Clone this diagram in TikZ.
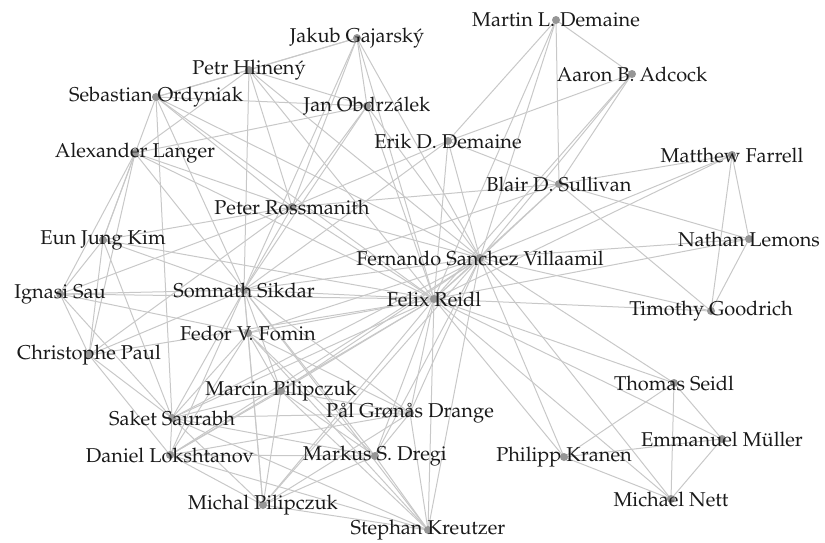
\documentclass[tikz,border=0pt]{standalone}
\usepackage[T1]{fontenc}
\usepackage{mathpazo}
\definecolor{edgegray}{RGB}{200,200,200}
\definecolor{dotgray}{RGB}{150,150,150}
\definecolor{inkblack}{RGB}{25,25,25}
\begin{document}
\begin{tikzpicture}[x=0.5pt,y=-0.5pt,
	coauthor/.style={draw=edgegray,line width=0.5pt},
	authorname/.style={text=inkblack,inner sep=0pt}]
	\useasboundingbox (0,0) rectangle (825,542);
	% where the authors sit
	\coordinate (mld) at (556,20);
	\coordinate (aba) at (632,74);
	\coordinate (jg) at (357,38);
	\coordinate (ph) at (249,70);
	\coordinate (so) at (156,97);
	\coordinate (jo) at (367,106);
	\coordinate (al) at (135,153);
	\coordinate (ed) at (448,141);
	\coordinate (mf) at (732,155);
	\coordinate (bs) at (559,184);
	\coordinate (pr) at (292,207);
	\coordinate (ek) at (103,240);
	\coordinate (nl) at (749,239);
	\coordinate (fsv) at (480,258);
	\coordinate (is) at (60,294);
	\coordinate (ss) at (244,290);
	\coordinate (fr) at (434,299);
	\coordinate (tg) at (711,311);
	\coordinate (ff) at (248,333);
	\coordinate (cp) at (89,355);
	\coordinate (marp) at (281,391);
	\coordinate (ts) at (674,383);
	\coordinate (pd) at (410,413);
	\coordinate (sks) at (172,418);
	\coordinate (em) at (722,439);
	\coordinate (dl) at (170,455);
	\coordinate (msd) at (375,456);
	\coordinate (pk) at (564,457);
	\coordinate (micp) at (263,505);
	\coordinate (mn) at (671,499);
	\coordinate (sk) at (428,530);
	% co-authorships
	\draw[coauthor] (fr) edge (mld) edge (aba) edge (jg) edge (ph) edge (so) edge (jo)
		edge (al) edge (ed) edge (mf) edge (bs) edge (pr) edge (ek) edge (nl) edge (fsv)
		edge (is) edge (ss) edge (tg) edge (ff) edge (cp) edge (marp) edge (ts) edge (pd)
		edge (sks) edge (em) edge (dl) edge (msd) edge (pk) edge (micp) edge (mn) edge (sk);
	\draw[coauthor] (fsv) edge (jg) edge (ph) edge (jo) edge (so) edge (pr) edge (ss)
		edge (ed) edge (bs) edge (aba) edge (mld) edge (mf) edge (tg) edge (nl)
		edge (pd) edge (msd) edge (ff) edge (sk) edge (dl) edge (marp) edge (micp) edge (sks)
		edge (pk) edge (ts) edge (mn);
	\draw[coauthor] (jg) edge (ph) edge (jo) edge (so) edge (pr) edge (ss);
	\draw[coauthor] (ph) edge (jo) edge (so) edge (pr) edge (ss) edge (al);
	\draw[coauthor] (jo) edge (so) edge (pr) edge (ss) edge (al);
	\draw[coauthor] (so) edge (pr) edge (ss) edge (ek) edge (sks);
	\draw[coauthor] (pr) edge (ss) edge (ek) edge (al) edge (cp) edge (is) edge (ed) edge (bs);
	\draw[coauthor] (ek) edge (al) edge (cp) edge (is) edge (ss) edge (sks);
	\draw[coauthor] (al) edge (cp) edge (is) edge (ss);
	\draw[coauthor] (cp) edge (is) edge (ss) edge (sks) edge (dl);
	\draw[coauthor] (is) edge (ss) edge (sks) edge (ff);
	\draw[coauthor] (ss) edge (pd) edge (msd) edge (ff) edge (sk) edge (dl) edge (marp)
		edge (micp) edge (sks) edge (ed) edge (bs);
	\draw[coauthor] (ff) edge (pd) edge (msd) edge (sk) edge (dl) edge (marp) edge (micp) edge (sks);
	\draw[coauthor] (sks) edge (pd) edge (msd) edge (sk) edge (dl) edge (marp) edge (micp);
	\draw[coauthor] (dl) edge (pd) edge (msd) edge (sk) edge (marp) edge (micp);
	\draw[coauthor] (marp) edge (pd) edge (msd) edge (sk) edge (micp);
	\draw[coauthor] (micp) edge (pd) edge (msd) edge (sk);
	\draw[coauthor] (pd) edge (msd) edge (sk);
	\draw[coauthor] (msd) edge (sk);
	\draw[coauthor] (ed) edge (bs) edge (aba) edge (mld);
	\draw[coauthor] (bs) edge (aba) edge (mld) edge (mf) edge (tg) edge (nl);
	\draw[coauthor] (aba) edge (mld);
	\draw[coauthor] (mf) edge (tg) edge (nl);
	\draw[coauthor] (tg) edge (nl);
	\draw[coauthor] (pk) edge (ts) edge (em) edge (mn);
	\draw[coauthor] (ts) edge (em) edge (mn);
	\draw[coauthor] (em) edge (mn);
	% dots
	\foreach \who in {mld,aba,jg,ph,so,jo,al,ed,mf,bs,pr,ek,nl,fsv,is,ss,fr,tg,ff,cp,
		marp,ts,pd,sks,em,dl,msd,pk,micp,mn,sk}
		\fill[dotgray] (\who) circle (2pt);
	% names
	\node[authorname] (mld-name) at (mld) {Martin L. Demaine};
	\node[authorname] (aba-name) at (aba) {Aaron B. Adcock};
	\node[authorname] (jg-name) at (jg) {Jakub Gajarsk\'y};
	\node[authorname] (ph-name) at (ph) {Petr Hlinen\'y};
	\node[authorname] (so-name) at (so) {Sebastian Ordyniak};
	\node[authorname] (jo-name) at (jo) {Jan Obdrz\'alek};
	\node[authorname] (al-name) at (al) {Alexander Langer};
	\node[authorname] (ed-name) at (ed) {Erik D. Demaine};
	\node[authorname] (mf-name) at (mf) {Matthew Farrell};
	\node[authorname] (bs-name) at (bs) {Blair D. Sullivan};
	\node[authorname] (pr-name) at (pr) {Peter Rossmanith};
	\node[authorname] (ek-name) at (ek) {Eun Jung Kim};
	\node[authorname] (nl-name) at (nl) {Nathan Lemons};
	\node[authorname] (fsv-name) at (fsv) {Fernando Sanchez Villaamil};
	\node[authorname] (is-name) at (is) {Ignasi Sau};
	\node[authorname] (ss-name) at (ss) {Somnath Sikdar};
	\node[authorname] (fr-name) at (fr) {Felix Reidl};
	\node[authorname] (tg-name) at (tg) {Timothy Goodrich};
	\node[authorname] (ff-name) at (ff) {Fedor V. Fomin};
	\node[authorname] (cp-name) at (cp) {Christophe Paul};
	\node[authorname] (marp-name) at (marp) {Marcin Pilipczuk};
	\node[authorname] (ts-name) at (ts) {Thomas Seidl};
	\node[authorname] (pd-name) at (pd) {P\aa l Gr\o n\aa s Drange};
	\node[authorname] (sks-name) at (sks) {Saket Saurabh};
	\node[authorname] (em-name) at (em) {Emmanuel M\"uller};
	\node[authorname] (dl-name) at (dl) {Daniel Lokshtanov};
	\node[authorname] (msd-name) at (msd) {Markus S. Dregi};
	\node[authorname] (pk-name) at (pk) {Philipp Kranen};
	\node[authorname] (micp-name) at (micp) {Michal Pilipczuk};
	\node[authorname] (mn-name) at (mn) {Michael Nett};
	\node[authorname] (sk-name) at (sk) {Stephan Kreutzer};
\end{tikzpicture}
\end{document}
